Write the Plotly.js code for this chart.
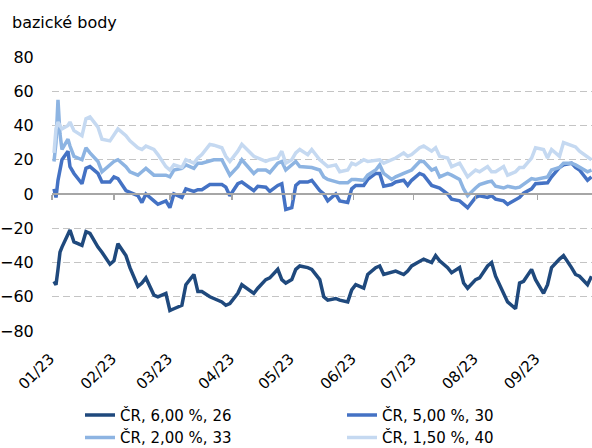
<!DOCTYPE html>
<html>
<head>
<meta charset="utf-8">
<script src="https://cdn.plot.ly/plotly-3.0.1.min.js"></script>
<style>html,body{margin:0;padding:0;background:#fff;}#chart{width:592px;height:448px;}</style>
</head>
<body>
<div id="chart"></div>
<script>
const dates = ['2023-01-02','2023-01-03','2023-01-04','2023-01-05','2023-01-06','2023-01-09','2023-01-10','2023-01-12','2023-01-16','2023-01-18','2023-01-20','2023-01-24','2023-01-26','2023-01-30',
'2023-02-01','2023-02-03','2023-02-07','2023-02-09','2023-02-13','2023-02-15','2023-02-17','2023-02-21','2023-02-23','2023-02-27',
'2023-03-01','2023-03-03','2023-03-07','2023-03-09','2023-03-13','2023-03-15','2023-03-17','2023-03-21','2023-03-23','2023-03-27','2023-03-29','2023-03-31',
'2023-04-04','2023-04-06','2023-04-12','2023-04-14','2023-04-18','2023-04-20','2023-04-24','2023-04-26','2023-04-28',
'2023-05-01','2023-05-03','2023-05-05','2023-05-09','2023-05-11','2023-05-15','2023-05-17','2023-05-19','2023-05-23','2023-05-25','2023-05-29','2023-05-31',
'2023-06-02','2023-06-06','2023-06-08','2023-06-12','2023-06-14','2023-06-16','2023-06-20','2023-06-22','2023-06-26','2023-06-28','2023-06-30',
'2023-07-04','2023-07-06','2023-07-10','2023-07-12','2023-07-14','2023-07-18','2023-07-20','2023-07-24','2023-07-26','2023-07-28',
'2023-08-01','2023-08-03','2023-08-07','2023-08-09','2023-08-11','2023-08-15','2023-08-17','2023-08-21','2023-08-23','2023-08-25','2023-08-29','2023-08-31',
'2023-09-04','2023-09-06','2023-09-08','2023-09-12','2023-09-14','2023-09-18','2023-09-20','2023-09-22','2023-09-26','2023-09-28'];

const cr600 = [-51,-53,-44,-34,-31,-24,-21,-28,-30,-22,-23,-31,-34,-41,
-39,-29,-36,-43,-54,-52,-49,-59,-60,-58,
-68,-67,-65,-53,-47,-57,-57,-60,-61,-63,-65,-64,
-58,-53,-58,-55,-50,-49,-44,-50,-52,
-50,-44,-42,-43,-44,-50,-60,-62,-61,-62,-63,-56,
-53,-55,-47,-43,-42,-47,-46,-45,-47,-45,-42,
-39,-38,-40,-36,-39,-43,-46,-43,-52,-55,
-50,-49,-42,-40,-48,-58,-63,-67,-52,-51,-44,-50,
-58,-53,-43,-38,-36,-43,-47,-48,-53,-48];

const cr500 = [3,-2,8,15,20,25,16,12,6,15,16,12,7,7,
10,9,2,1,-1,-5,0,-4,-6,-4,
-8,0,-2,3,1.5,2.5,2.5,5.5,5.5,5.5,4,-1,
6,7,2,4.5,4,1.5,5,6,-9,
-8,5,7,7,8,2,0,-4,0,-4,-5,3,
5,5,8.5,12,12,4.5,5.5,7,8,5,8,
12,11,5,4.5,3.5,0,-3,-4,-6,-8,
-2,-1,-2,-1,-3,-4,-6,-3,-2,0.5,3,6,
6.5,6.5,10,15.5,17,18,15.5,14,8,10];

const cr200 = [19,30,55,35,26,32,28,22,20,27,24,19,13,17,
19,20,16,13,11,13,15,11,11,11,
10,14,15,17,15,18,18,19,20,20,16,11,
16,20,12,14,14,12.5,18,19,14,
17,19,16,16,15.5,14,10,8.5,7,6.5,6.5,8.5,
8.5,8,11,14,17,12,8.5,10,12,13,14,
19,19,14,15,10,12,11,8.5,3,-1,
3.5,5.5,7,7.5,4.5,3.5,4.5,3.5,4,5.5,9,8.5,
9.5,10,14,15.5,18,18,17,15.5,13,14];

const cr150 = [24,38,42,40,38,40,42,37,34,44,45,39,32,31,
35,38,34,31,27,26,28,26,23,16,
14,17,15.5,20,18,21,23,29,28.5,27,22,19,
25,29,22,21,19,20,21,25,18,
20,24,26,23,26,20,18,16,17,13,14,18,
17,20,19,20,20,18,20,21,24,22,23,
27,28,25,27,22,21,16,18,14,10,
14,13,16,13,13,16,11,13,15.5,15.5,21,27,
26,21,26,22,30,28,27.5,25,22,20];

const seriesNames = ['ČR, 6,00 %, 26','ČR, 5,00 %, 30','ČR, 2,00 %, 33','ČR, 1,50 %, 40'];
const monthTicks = ['2023-01-01','2023-02-01','2023-03-01','2023-04-01','2023-05-01','2023-06-01','2023-07-01','2023-08-01','2023-09-01'];
const monthLabels = ['01/23','02/23','03/23','04/23','05/23','06/23','07/23','08/23','09/23'];
const yTicks = [-80,-60,-40,-20,0,20,40,60,80];
const yTitle = 'bazické body';

const colors = ['#1F497D','#4472C4','#8DB4E2','#C5D9F1'];
const legendIds = ['legend','legend2','legend','legend2'];
const values = [cr600, cr500, cr200, cr150];
const xRange = ['2023-01-01','2023-09-28 06:00'];
const font = 'DejaVu Sans, Verdana, sans-serif';

const traces = values.map((v,i) => ({
  type:'scatter', mode:'lines', x: dates, y: v, name: seriesNames[i],
  line:{color: colors[i], width: 3.5}, legend: legendIds[i], hoverinfo:'skip'
}));
traces.push({type:'scatter', mode:'lines', x:[], y:[], xaxis:'x2', showlegend:false, hoverinfo:'skip'});

const layout = {
  width:592, height:448,
  margin:{l:52, r:0, t:57, b:117, autoexpand:false},
  paper_bgcolor:'#fff', plot_bgcolor:'#fff',
  font:{family:font, size:15, color:'#000'},
  showlegend:true,
  title:{text:yTitle, x:12/592, xanchor:'left', xref:'container', y:1-22/448, yanchor:'middle', yref:'container', font:{family:font, size:16, color:'#000'}},
  xaxis:{type:'date', range:xRange, tickvals:monthTicks, ticktext:monthLabels, tickangle:-45, automargin:false,
    showgrid:false, showline:false, zeroline:false, ticks:'outside', ticklen:12, tickcolor:'rgba(0,0,0,0)',
    ticklabelshift:-2, tickfont:{family:font, size:15, color:'#000'}},
  xaxis2:{type:'date', range:xRange, overlaying:'x', anchor:'free', position:0.5, side:'bottom', automargin:false,
    tickvals:monthTicks, showticklabels:false, showgrid:false, zeroline:false,
    showline:true, linecolor:'#a6a6a6', linewidth:2, ticks:'outside', ticklen:5, tickwidth:1.5, tickcolor:'#a6a6a6'},
  yaxis:{range:[-80,80], tickvals:yTicks, showgrid:true, gridcolor:'#c4c4c4', gridwidth:1.3, griddash:'7px,4px', automargin:false,
    zeroline:false, showline:false, ticks:'outside', ticklen:14, tickcolor:'rgba(0,0,0,0)',
    tickfont:{family:font, size:16, color:'#000'}},
  legend:{x:(80-52)/540, xanchor:'left', y:-0.247, yanchor:'top', orientation:'v', bgcolor:'rgba(0,0,0,0)',
    font:{family:font, size:15, color:'#000'}, tracegroupgap:0},
  legend2:{x:(342-52)/540, xanchor:'left', y:-0.247, yanchor:'top', orientation:'v', bgcolor:'rgba(0,0,0,0)',
    font:{family:font, size:15, color:'#000'}, tracegroupgap:0}
};

Plotly.newPlot('chart', traces, layout, {displayModeBar:false, staticPlot:true});
</script>
</body>
</html>
